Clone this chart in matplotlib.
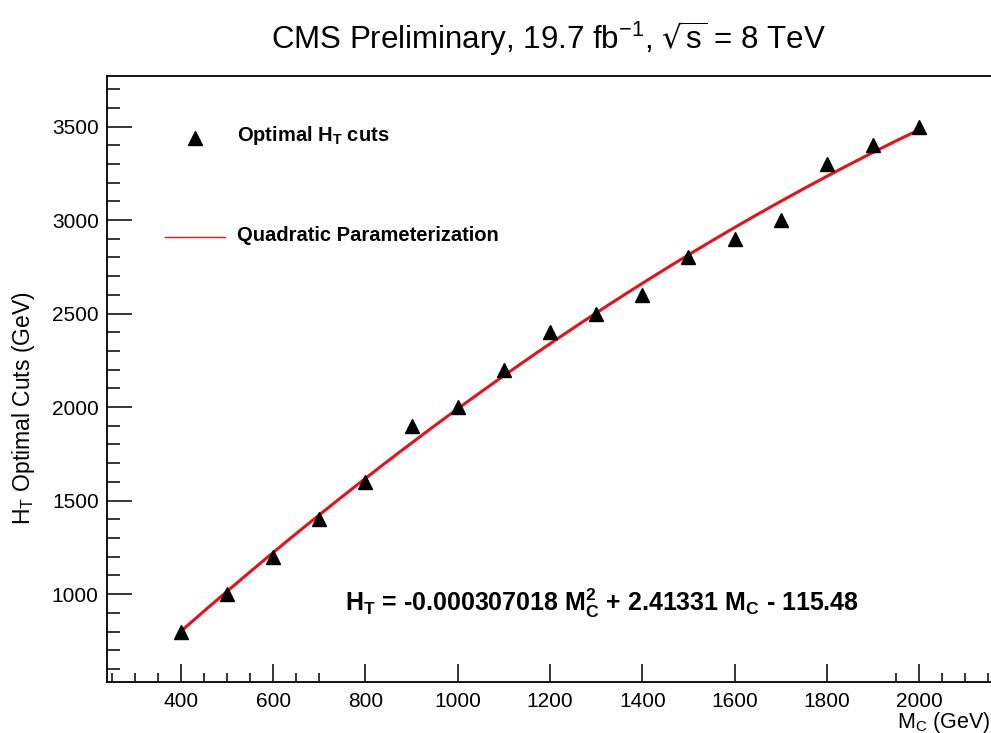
import numpy as np
import matplotlib
matplotlib.use('Agg')
import matplotlib.pyplot as plt
from matplotlib.lines import Line2D
import matplotlib.ticker as mticker

plt.rcParams['font.family'] = 'Liberation Sans'
plt.rcParams['mathtext.default'] = 'regular'

# optimal HT cut per mass point
mass = [400, 500, 600, 700, 800, 900, 1000, 1100, 1200, 1300,
        1400, 1500, 1600, 1700, 1800, 1900, 2000]
ht_cut = [800, 1000, 1200, 1400, 1600, 1900, 2000, 2200, 2400, 2500,
          2600, 2800, 2900, 3000, 3300, 3400, 3500]

# quadratic fit coefficients: a*M^2 + b*M + c
fit_a = -0.000307018
fit_b = 2.41331
fit_c = -115.48

fig = plt.figure(figsize=(9.91, 7.33), dpi=100)
ax = fig.add_axes([107 / 991, 51 / 733, 886 / 991, 606 / 733])

ax.plot(mass, ht_cut, linestyle='none', marker='^', color='black', markersize=10, zorder=3)

m_fit = np.linspace(mass[0], mass[-1], 300)
ax.plot(m_fit, fit_a * m_fit**2 + fit_b * m_fit + fit_c, color='#e8101a', lw=2.2, zorder=2)

ax.set_xlim(240, 2160)
ax.set_ylim(530, 3770)

# axis ticks, ROOT style (pointing inwards)
ax.xaxis.set_major_locator(mticker.FixedLocator(np.arange(400, 2001, 200)))
ax.xaxis.set_minor_locator(mticker.FixedLocator(
    [250, 300, 350, 450, 500, 550, 650, 700, 1950, 2050, 2100, 2150]))
ax.yaxis.set_major_locator(mticker.MultipleLocator(500))
ax.yaxis.set_minor_locator(mticker.MultipleLocator(100))
ax.tick_params(axis='both', which='both', direction='in', labelsize=15, width=1.1)
ax.tick_params(axis='y', which='major', length=18, pad=6)
ax.tick_params(axis='y', which='minor', length=9)
ax.tick_params(axis='x', which='major', length=13, pad=7)
ax.tick_params(axis='x', which='minor', length=6.5)
for tick in ax.xaxis.get_major_ticks():
    if 700 < tick.get_loc() < 1900:
        tick.tick1line.set_visible(False)

for sp in ax.spines.values():
    sp.set_linewidth(1.3)

# legend drawn by hand
ax.add_line(Line2D([0.0993], [0.8977], transform=ax.transAxes, marker='^',
                   color='black', markersize=10, linestyle='none'))
ax.text(0.1467, 0.902, 'Optimal H$_T$ cuts', transform=ax.transAxes,
        fontsize=14.5, fontweight='bold', va='center', ha='left')
ax.add_line(Line2D([0.0655, 0.1332], [0.7343, 0.7343], transform=ax.transAxes,
                   color='#e8101a', lw=1.0))
ax.text(0.1467, 0.736, 'Quadratic Parameterization', transform=ax.transAxes,
        fontsize=14.5, fontweight='bold', va='center', ha='left')

ax.text(0.2686, 0.130,
        'H$_T$ = %.9f M$_C^2$ + %.5f M$_C$ - %.2f' % (fit_a, fit_b, -fit_c),
        transform=ax.transAxes, fontsize=18, fontweight='bold', va='center', ha='left')

fig.text(0.553, 0.948, r'CMS Preliminary, 19.7 fb$^{-1}$, $\sqrt{s}$ = 8 TeV',
         fontsize=22.5, ha='center', va='center')
fig.text(0.024, 0.443, 'H$_T$ Optimal Cuts (GeV)', rotation=90,
         fontsize=16.5, ha='center', va='center')
fig.text(0.999, 0.015, 'M$_C$ (GeV)', fontsize=15.5, ha='right', va='center')

fig.savefig('out.png', dpi=100)
